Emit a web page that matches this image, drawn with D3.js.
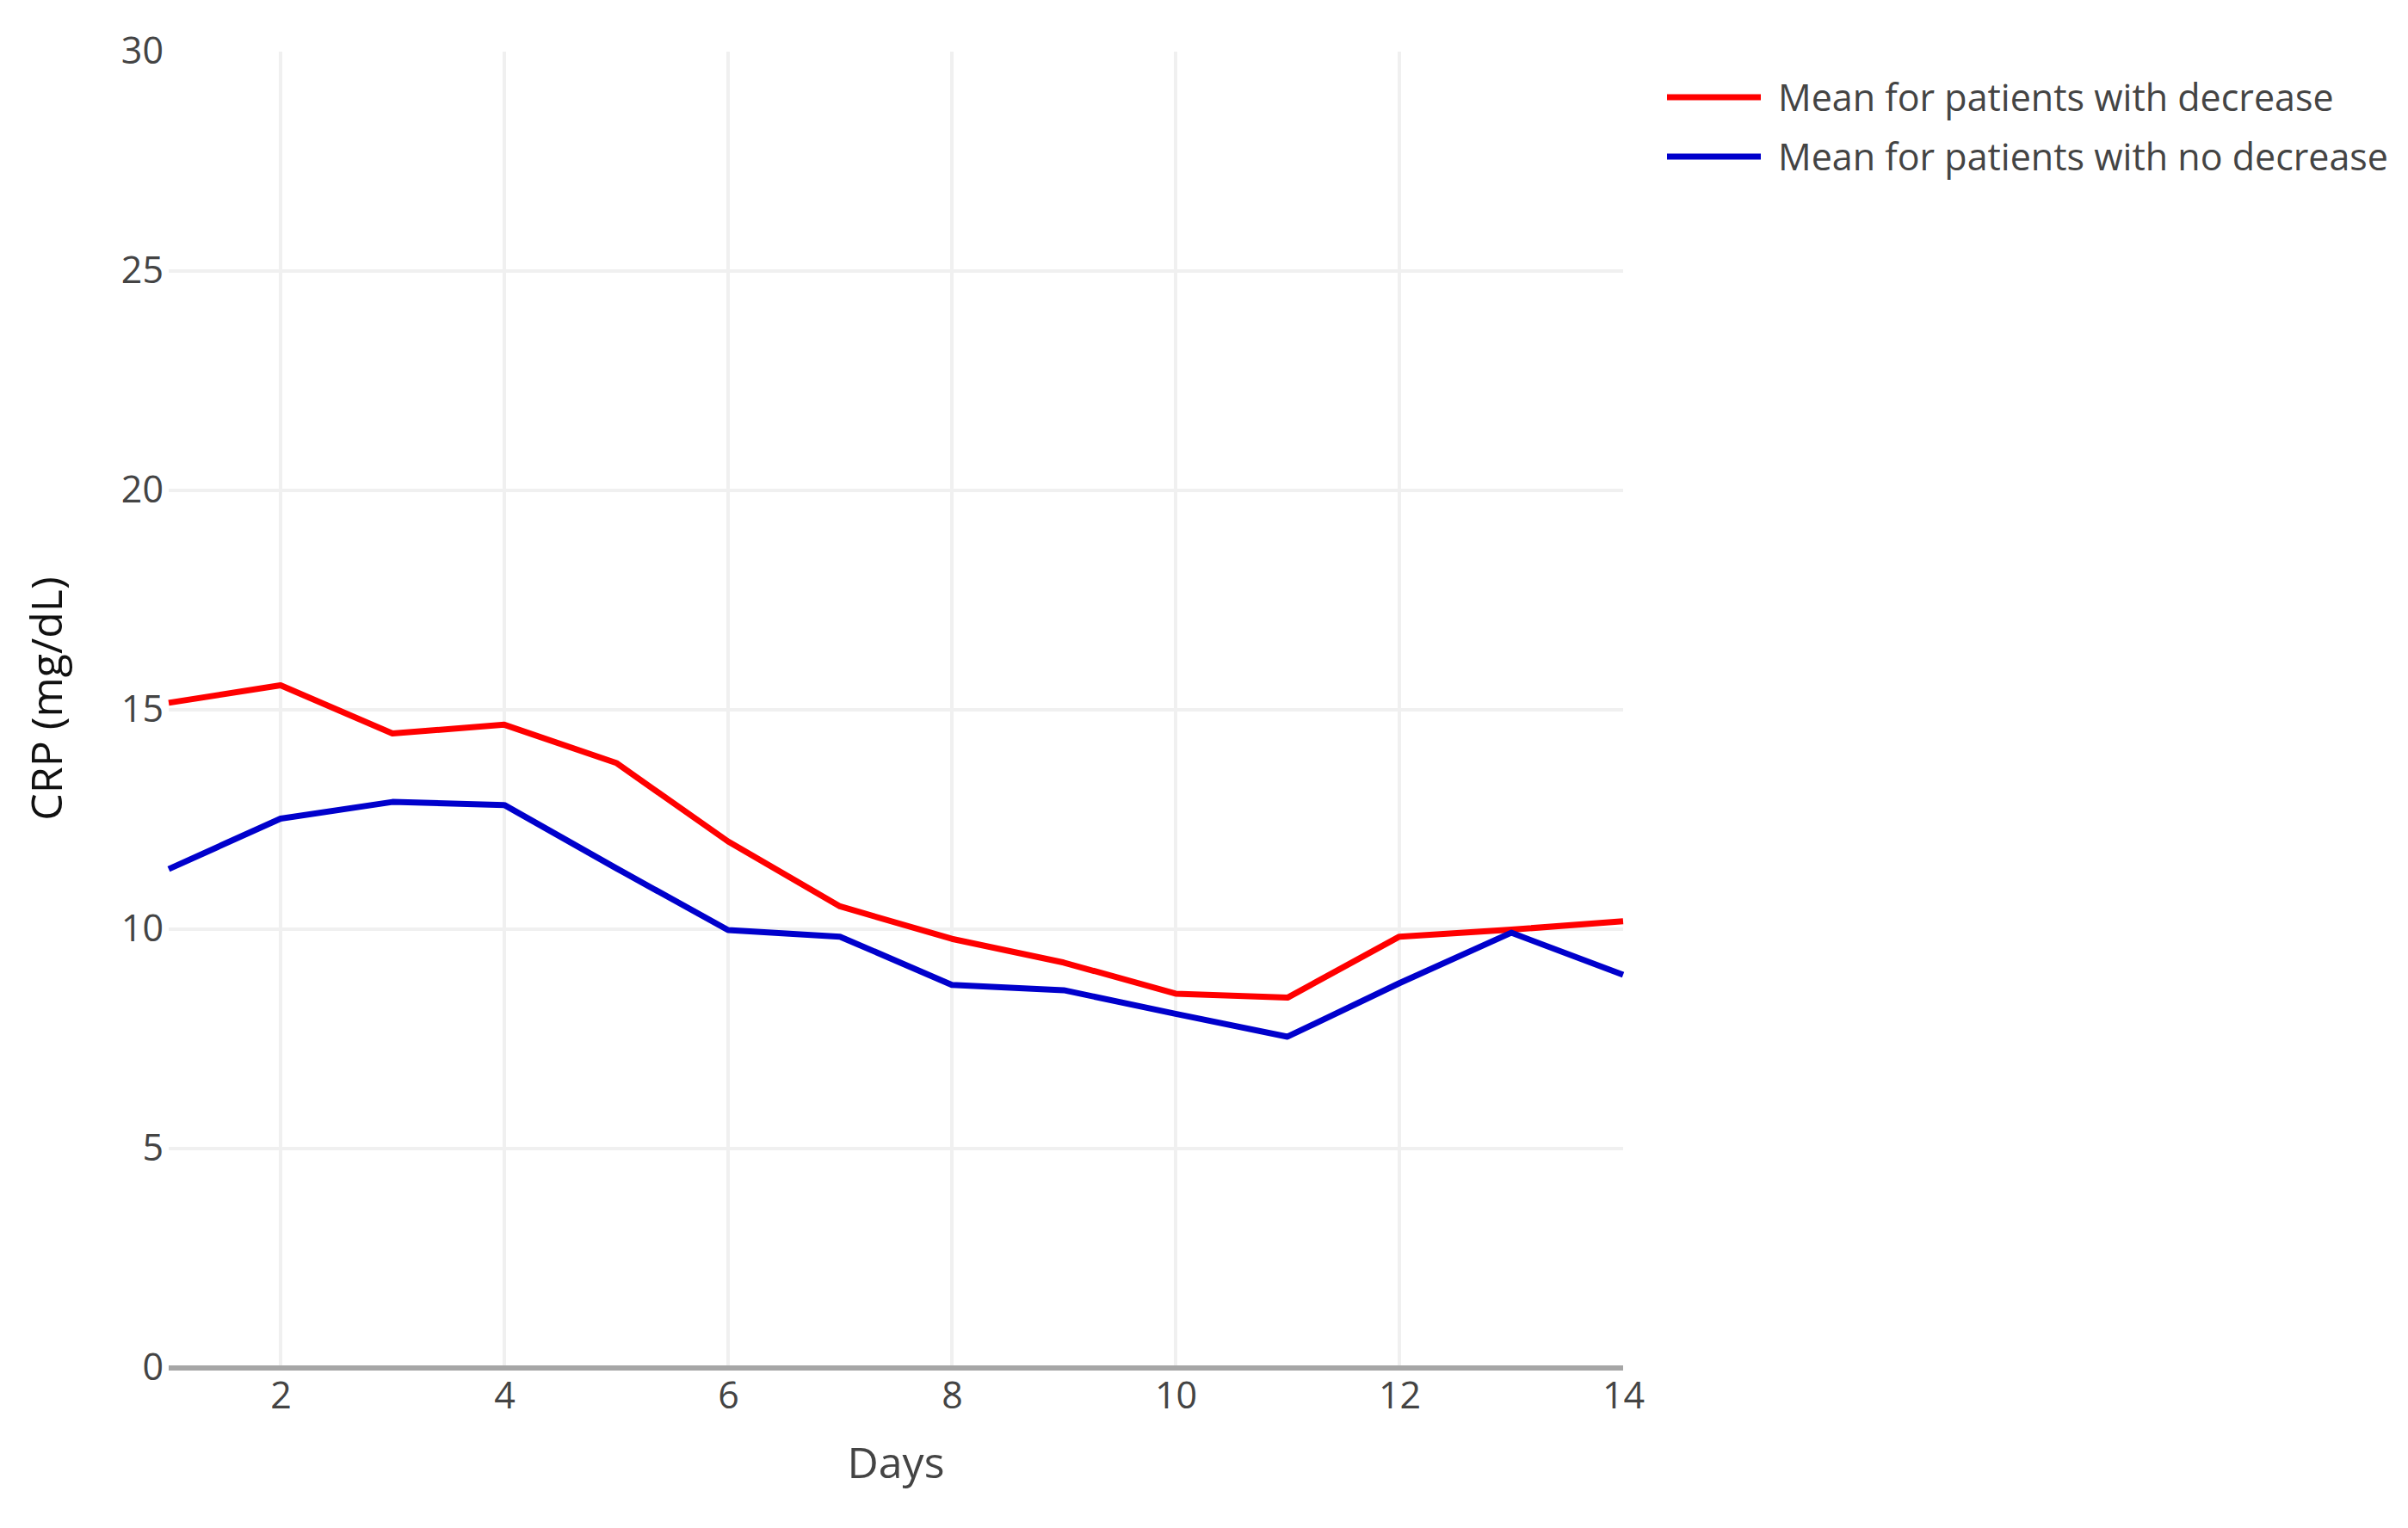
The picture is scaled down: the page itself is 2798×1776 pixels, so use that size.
<!DOCTYPE html>
<html>
<head>
<meta charset="utf-8">
<title>CRP by day</title>
<script src="https://d3js.org/d3.v7.min.js"></script>
<style>
  body { margin: 0; background: #fff; }
  svg { display: block; font-family: "Open Sans", sans-serif; }
</style>
</head>
<body>
<div id="chart"></div>
<script>
// data
const days = [1, 2, 3, 4, 5, 6, 7, 8, 9, 10, 11, 12, 13, 14];
const decrease = [15.16, 15.56, 14.46, 14.66, 13.79, 12.0, 10.52, 9.78, 9.24, 8.53, 8.44, 9.83, 9.99, 10.18];
const noDecrease = [11.37, 12.52, 12.9, 12.83, 11.39, 9.98, 9.83, 8.73, 8.61, 8.07, 7.55, 8.77, 9.92, 8.96];
const seriesNames = ["Mean for patients with decrease", "Mean for patients with no decrease"];
const seriesColors = ["#ff0000", "#0000cc"];
const xTicks = [2, 4, 6, 8, 10, 12, 14];
const yTicks = [0, 5, 10, 15, 20, 25, 30];

const W = 2798, H = 1776;
const margin = {top: 60, left: 196, right: W - 1886, bottom: H - 1590};
const w = W - margin.left - margin.right;
const h = H - margin.top - margin.bottom;

const svg = d3.select("#chart").append("svg")
    .attr("width", W)
    .attr("height", H);

const g = svg.append("g")
    .attr("transform", "translate(" + margin.left + "," + margin.top + ")");

const x = d3.scaleLinear().domain([1, 14]).range([0, w]);
const y = d3.scaleLinear().domain([0, 30]).range([h, 0]);

// grid (none on the plot edges)
g.append("g").selectAll("line").data(xTicks.filter(d => d < 14)).join("line")
    .attr("x1", d => x(d)).attr("x2", d => x(d))
    .attr("y1", 0).attr("y2", h)
    .attr("stroke", "#f0f0f0").attr("stroke-width", 4);
g.append("g").selectAll("line").data(yTicks.filter(d => d > 0 && d < 30)).join("line")
    .attr("x1", 0).attr("x2", w)
    .attr("y1", d => y(d)).attr("y2", d => y(d))
    .attr("stroke", "#f0f0f0").attr("stroke-width", 4);

// axes (labels only, plotly style)
const xAxis = g.append("g")
    .attr("transform", "translate(0," + h + ")")
    .call(d3.axisBottom(x).tickValues(xTicks).tickSize(0).tickPadding(16));
const yAxis = g.append("g")
    .call(d3.axisLeft(y).tickValues(yTicks).tickSize(0).tickPadding(6));
[xAxis, yAxis].forEach(a => {
    a.select(".domain").remove();
    a.selectAll("text")
        .attr("font-family", "'Open Sans', sans-serif")
        .attr("font-size", "43px")
        .attr("fill", "#444");
});

// zero line
g.append("line")
    .attr("x1", 0).attr("x2", w)
    .attr("y1", y(0)).attr("y2", y(0))
    .attr("stroke", "#a6a6a6").attr("stroke-width", 6);

// lines
const line = d3.line()
    .x((d, i) => x(days[i]))
    .y(d => y(d));

[decrease, noDecrease].forEach((vals, k) => {
    g.append("path")
        .datum(vals)
        .attr("d", line)
        .attr("fill", "none")
        .attr("stroke", seriesColors[k])
        .attr("stroke-width", 7)
        .attr("stroke-linejoin", "round");
});

// axis titles
svg.append("text")
    .attr("x", margin.left + w / 2)
    .attr("y", 1718)
    .attr("text-anchor", "middle")
    .attr("font-size", "50px")
    .attr("fill", "#444")
    .text("Days");

svg.append("text")
    .attr("transform", "translate(72,812) rotate(-90)")
    .attr("text-anchor", "middle")
    .attr("font-size", "50px")
    .attr("fill", "#111")
    .text("CRP (mg/dL)");

// legend
const legend = svg.append("g").attr("transform", "translate(1937,113)");
seriesNames.forEach((name, k) => {
    const row = legend.append("g").attr("transform", "translate(0," + (k * 69) + ")");
    row.append("line")
        .attr("x1", 0).attr("x2", 109)
        .attr("stroke", seriesColors[k]).attr("stroke-width", 7);
    row.append("text")
        .attr("x", 129)
        .attr("y", 16)
        .attr("font-size", "43px")
        .attr("fill", "#444")
        .text(name);
});
</script>
</body>
</html>
